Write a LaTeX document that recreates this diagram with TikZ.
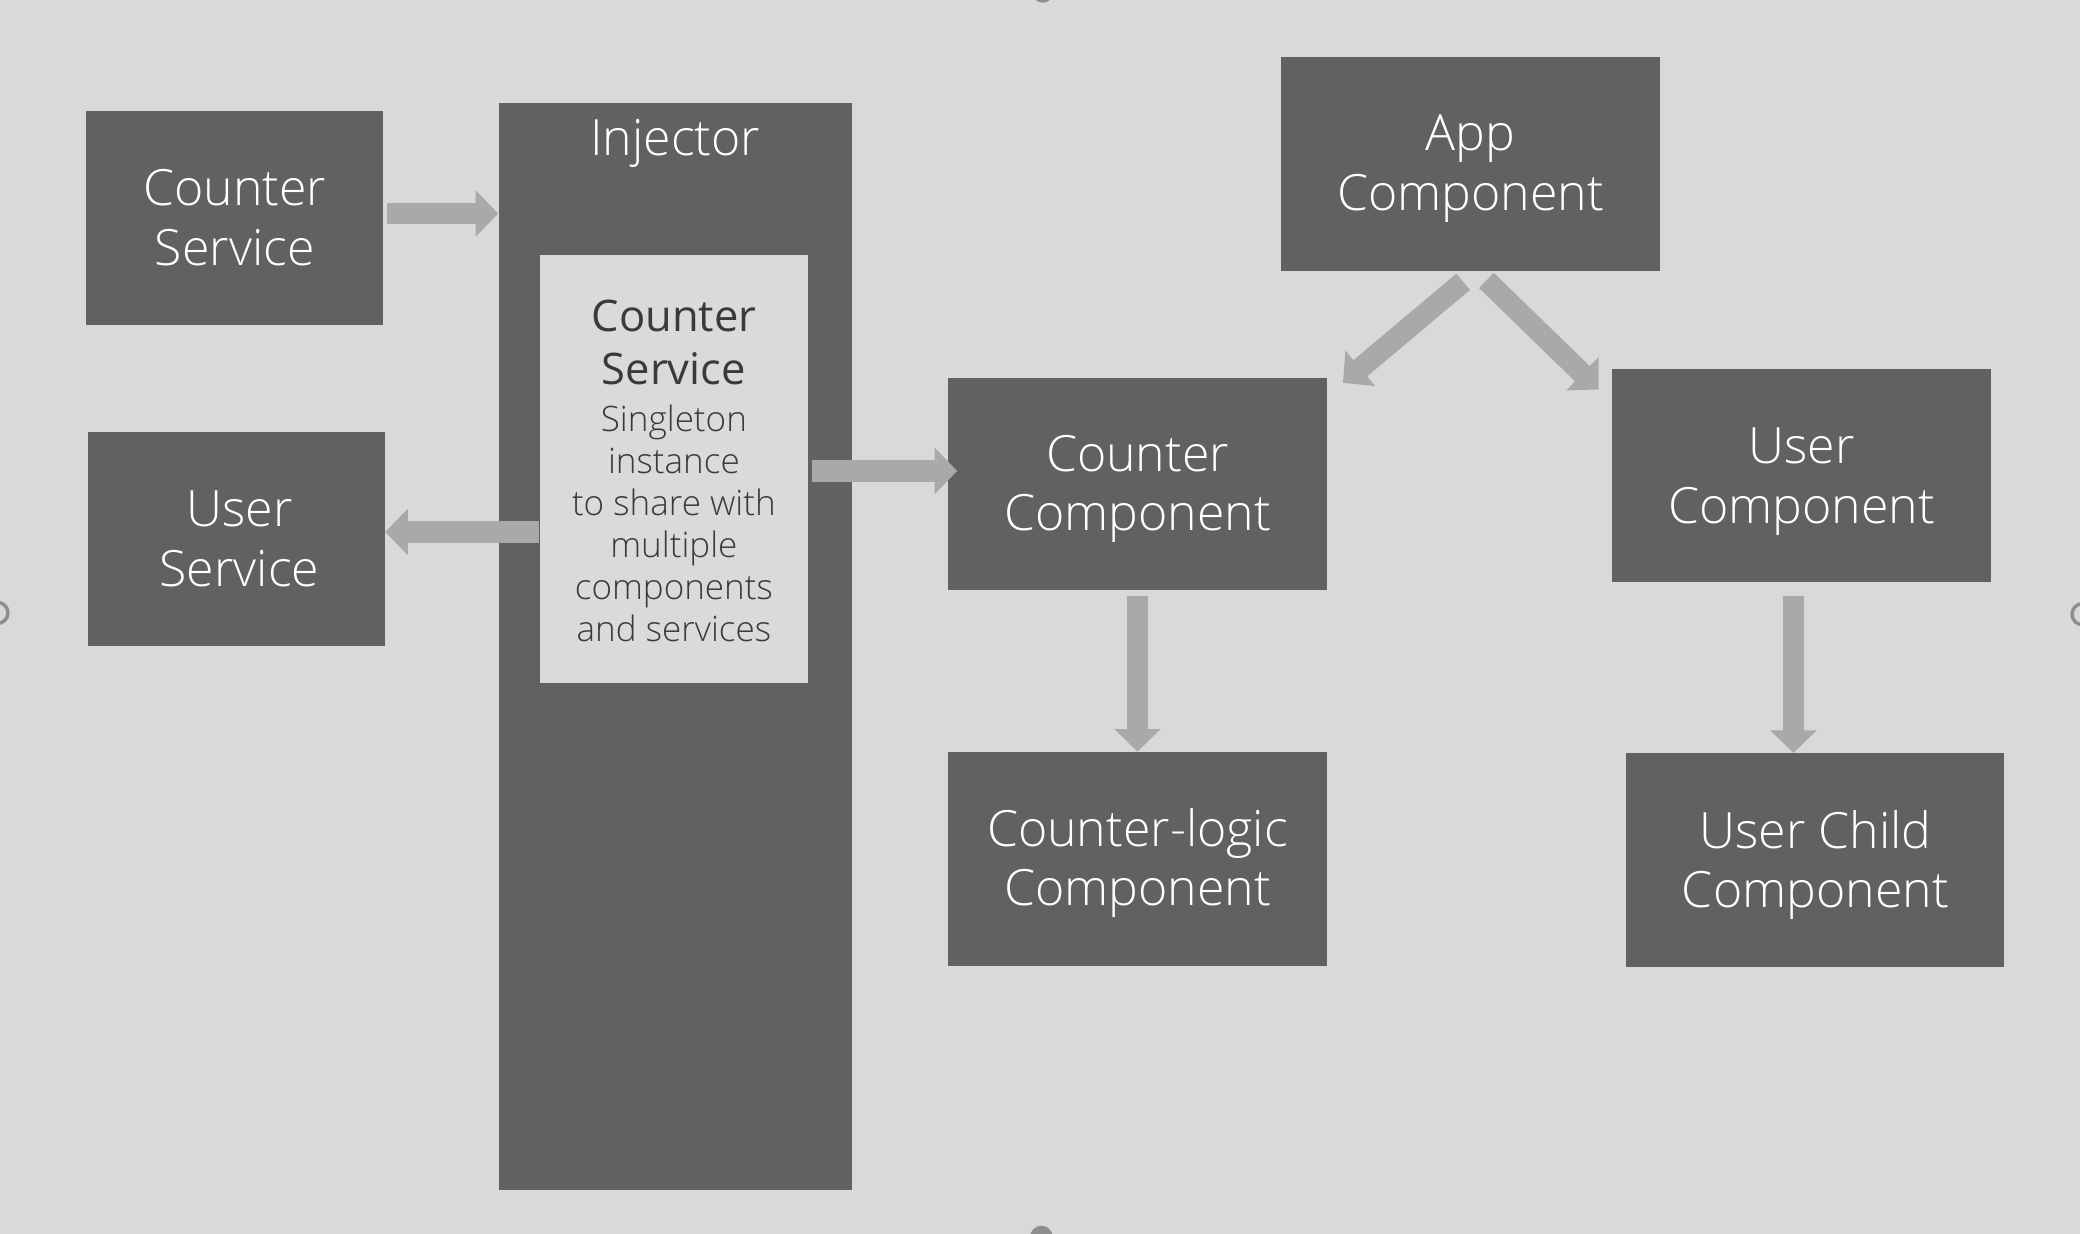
\documentclass[tikz,border=0pt]{standalone}
\usepackage{fontspec}
\IfFontExistsTF{Open Sans Light}{\setmainfont{Open Sans Light}}{\setmainfont{Open Sans}}
\newfontfamily\headfont{Open Sans}
\usetikzlibrary{arrows.meta}
\definecolor{bgc}{HTML}{D9D9D9}
\definecolor{boxc}{HTML}{626160}
\definecolor{arrc}{HTML}{A8AAA7}
\definecolor{innerc}{HTML}{DADADA}
\definecolor{innertext}{HTML}{3A3A3A}
\definecolor{handlec}{HTML}{8E8E8E}
\tikzset{
  box/.style={fill=boxc, draw=none, inner sep=0pt},
  boxtext/.style={text=white, align=center, inner sep=0pt,
    font=\fontsize{18.85}{22.5}\selectfont},
  fat/.style={draw=arrc, line width=8pt, -{Triangle[width=17pt,length=8.5pt]}},
  lbl/.style={align=center, inner sep=0pt},
}
\begin{document}
\begin{tikzpicture}[x=0.5pt,y=-0.5pt]
\fill[bgc] (0,0) rectangle (1568,930.24);
\useasboundingbox (0,0) rectangle (1568,930.24);
% edge handles
\draw[handlec, line width=1.3pt] (-2,462) circle[radius=4pt];
\draw[handlec, line width=1.3pt] (1570,463) circle[radius=4pt];
\fill[handlec] (786,-6.5) circle[radius=4.25pt];
\fill[handlec] (785,932.5) circle[radius=4.25pt];

% left services
\node[box, minimum width=112pt, minimum height=80.5pt] (cs) at (177,164.5) {};
\node[boxtext] (cst) at (177,164) {Counter\\Service};
\node[box, minimum width=112pt, minimum height=80.5pt] (us) at (178,406.5) {};
\node[boxtext] (ust) at (180.5,406) {User\\Service};

% injector
\node[box, minimum width=133pt, minimum height=409.5pt] (inj) at (509,487.5) {};
\node[boxtext] (injl) at (509,108) {Injector};
\node[fill=innerc, draw=none, minimum width=101pt, minimum height=161.5pt, inner sep=0pt] (inner) at (508,353.5) {};
\node[lbl, text=innertext, font=\headfont\fontsize{16.4}{20}\selectfont] (innerh) at (508,258) {Counter\\Service};
\node[lbl, text=innertext, font=\fontsize{13.2}{15.8}\selectfont] (innerb) at (508,394.5) {Singleton\\instance\\to share with\\multiple\\components\\and services};

% components
\node[box, minimum width=142.5pt, minimum height=80.5pt] (app) at (1108.5,123.5) {};
\node[boxtext] (appt) at (1108.5,127) {App\\Component};
\node[box, minimum width=142.5pt, minimum height=80pt] (cc) at (857.5,365) {};
\node[boxtext] (cct) at (857.5,368.5) {Counter\\Component};
\node[box, minimum width=143pt, minimum height=80.5pt] (uc) at (1358,358.5) {};
\node[boxtext] (uct) at (1358,363) {User\\Component};
\node[box, minimum width=142.5pt, minimum height=80.5pt] (clc) at (857.5,647.5) {};
\node[boxtext] (clct) at (857.5,650.5) {Counter-logic\\Component};
\node[box, minimum width=142.5pt, minimum height=80.5pt] (ucc) at (1368.5,648.5) {};
\node[boxtext] (ucct) at (1368.5,652) {User Child\\Component};

\coordinate (cctip) at ([xshift=3.5pt]cc.west);
% arrows
\draw[fat] ([xshift=1pt,yshift=1.75pt]cs.east) -- ([yshift=1.75pt]cs.east -| inj.west);
\draw[fat] ([yshift=-23.75pt]inner.west) -- ([yshift=-23.75pt]inner.west -| us.east);
\draw[fat] ([xshift=1.5pt,yshift=-0.75pt]inner.east) -- ([yshift=-0.75pt]inner.east -| cctip);
\draw[fat] ([xshift=-2.75pt,yshift=-4pt]app.south) -- ([xshift=6pt,yshift=-2pt]cc.north east);
\draw[fat] ([xshift=6pt,yshift=-3.5pt]app.south) -- ([xshift=-4.75pt,yshift=-8pt]uc.north west);
\draw[fat] ([yshift=-2pt]cc.south) -- (clc.north);
\draw[fat] ([xshift=-3pt,yshift=-5pt]uc.south) -- ([xshift=-3pt]uc.south |- ucc.north);
\end{tikzpicture}
\end{document}
